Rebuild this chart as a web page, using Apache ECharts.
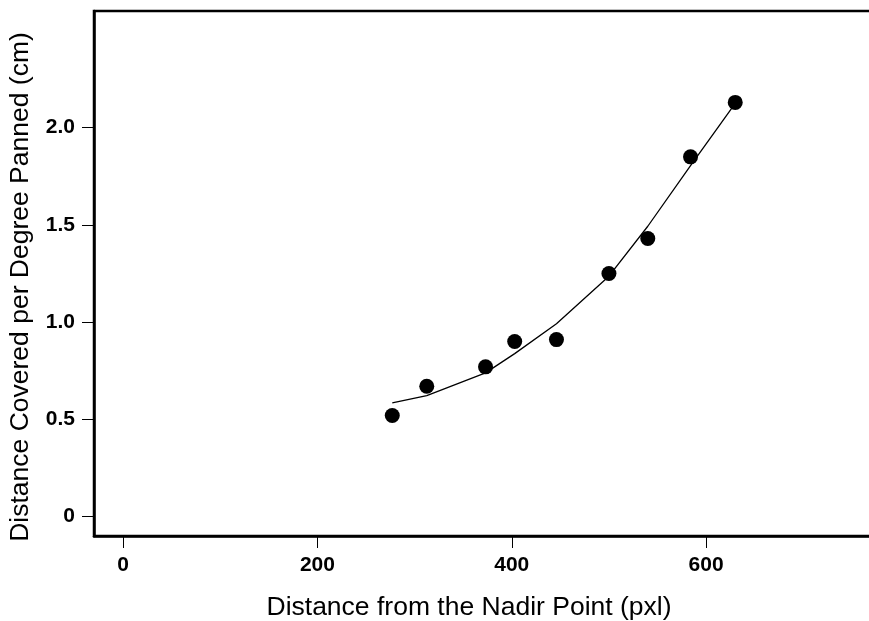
<!DOCTYPE html>
<html>
<head>
<meta charset="utf-8">
<script src="https://cdn.jsdelivr.net/npm/echarts@6/dist/echarts.min.js"></script>
<style>html,body{margin:0;padding:0;background:#fff;overflow:hidden}#c{width:900px;height:621px}</style>
</head>
<body>
<div id="c"></div>
<script>
const distancePx = [277, 312.5, 373, 403, 446, 500, 540, 584, 630];
const coveredCm = [0.52, 0.67, 0.77, 0.90, 0.91, 1.25, 1.43, 1.85, 2.13];
const fitValues = [0.585, 0.622, 0.739, 0.838, 0.992, 1.236, 1.493, 1.805, 2.125];
const xTicks = [0, 200, 400, 600];
const yTicks = [0, 0.5, 1.0, 1.5, 2.0];
const yTickLabels = ['0', '0.5', '1.0', '1.5', '2.0'];

const font = 'Liberation Sans, Arial, sans-serif';
const chart = echarts.init(document.getElementById('c'));
chart.setOption({
  animation: false,
  backgroundColor: '#fff',
  grid: { left: 94, top: 11, right: 20, bottom: 85, outerBoundsMode: 'none', show: true, borderColor: '#000', borderWidth: 2.5, containLabel: false },
  xAxis: {
    type: 'value', min: -30, max: 779,
    name: 'Distance from the Nadir Point (pxl)', nameLocation: 'middle', nameGap: 58,
    nameTextStyle: { fontFamily: font, fontSize: 26.5, color: '#000', padding: [0, 36, 0, 0] },
    axisLine: { show: true, onZero: false, lineStyle: { color: '#000', width: 2.5 } },
    axisTick: { show: true, customValues: xTicks, length: 12, lineStyle: { color: '#000', width: 1 } },
    axisLabel: { customValues: xTicks, margin: 19, fontFamily: font, fontSize: 21, fontWeight: 'bold', color: '#000' },
    splitLine: { show: false }
  },
  yAxis: {
    type: 'value', min: -0.1, max: 2.6,
    name: 'Distance Covered per Degree Panned (cm)', nameLocation: 'middle', nameGap: 60,
    nameTextStyle: { fontFamily: font, fontSize: 26.5, color: '#000', padding: [0, 27, 0, 0] },
    axisLine: { show: true, onZero: false, lineStyle: { color: '#000', width: 2.5 } },
    axisTick: { show: true, customValues: yTicks, length: 12, lineStyle: { color: '#000', width: 1 } },
    axisLabel: { customValues: yTicks, margin: 19, fontFamily: font, fontSize: 21, fontWeight: 'bold', color: '#000',
      formatter: function (v) { const i = yTicks.indexOf(v); return i >= 0 ? yTickLabels[i] : ''; } },
    splitLine: { show: false }
  },
  series: [
    {
      type: 'line', data: distancePx.map((x, i) => [x, fitValues[i]]),
      showSymbol: false, symbol: 'none', lineStyle: { color: '#000', width: 1.3 }, z: 2
    },
    {
      type: 'scatter', data: distancePx.map((x, i) => [x, coveredCm[i]]),
      symbol: 'circle', symbolSize: 15, itemStyle: { color: '#000', opacity: 1 }, z: 3
    }
  ]
});
</script>
</body>
</html>
